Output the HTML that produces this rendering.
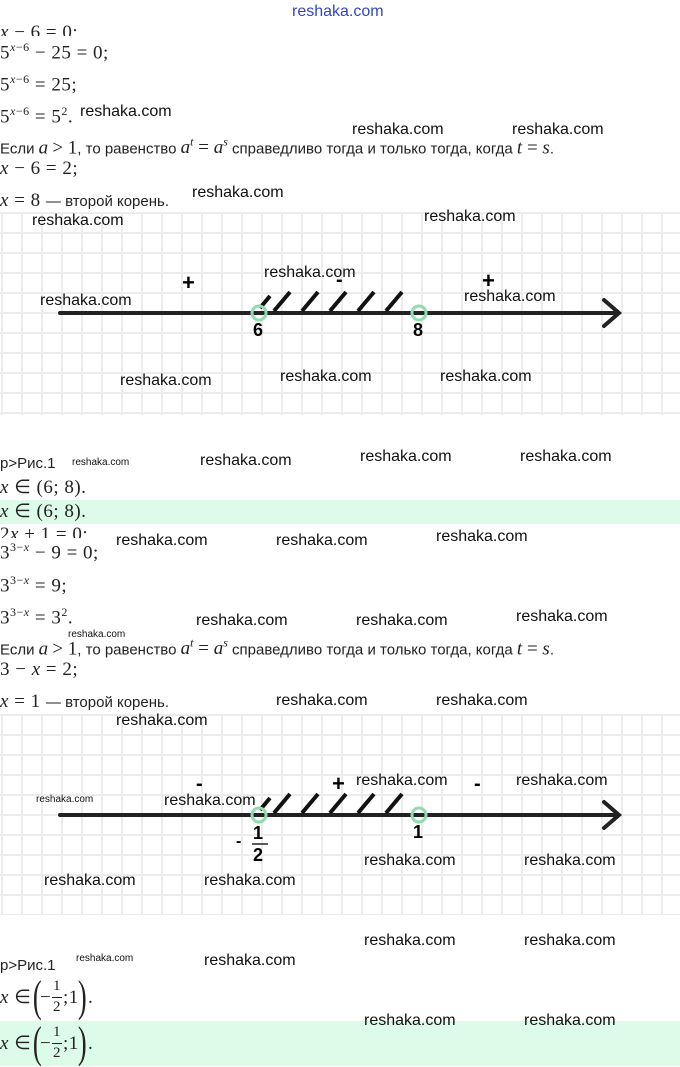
<!DOCTYPE html>
<html><head><meta charset="utf-8"><style>
body{margin:0;width:680px;height:1066px;position:relative;background:#fff;overflow:hidden;font-family:"Liberation Sans",sans-serif;}
.a{position:absolute;white-space:nowrap;line-height:1.2;}
.w{position:absolute;font-size:16px;color:#111;white-space:nowrap;line-height:1.2;}
.ws{position:absolute;font-size:10px;color:#111;line-height:1.2;}
.m{position:absolute;font-family:"Liberation Serif",serif;font-size:19px;letter-spacing:0.5px;color:#222;white-space:nowrap;line-height:1.2;}
.m i{font-style:italic;}
.t{position:absolute;font-size:15px;color:#222;white-space:nowrap;line-height:1.2;}
.grid{position:absolute;left:0;width:680px;background-image:linear-gradient(#ececec 2px,transparent 2px),linear-gradient(90deg,#ececec 2px,transparent 2px);background-size:20px 20px;background-position:1px 0px;}
.band{position:absolute;left:0;width:680px;background:#dcfbe8;}
sup{font-size:12px;}
.p{position:absolute;font-family:"Liberation Serif",serif;font-size:44px;font-weight:normal;color:#222;line-height:1;transform:scaleX(0.6);}
</style></head><body>
<div class="a" style="left:292px;top:2px;font-size:16px;color:#3344cc;">reshaka.com</div>
<div class="m" style="left:0;top:22px;height:14px;overflow:hidden;"><i>x</i> − 6 = 0;</div>
<div class="m" style="left:0;top:40px;">5<sup><i>x</i>−6</sup> − 25 = 0;</div>
<div class="m" style="left:0;top:72px;">5<sup><i>x</i>−6</sup> = 25;</div>
<div class="m" style="left:0;top:104px;">5<sup><i>x</i>−6</sup> = 5<sup>2</sup>.</div>
<div class="w" style="left:80px;top:102px;">reshaka.com</div>
<div class="w" style="left:352px;top:120px;">reshaka.com</div>
<div class="w" style="left:512px;top:120px;">reshaka.com</div>
<div class="t" style="left:0;top:135px;">Если <span style="font-family:'Liberation Serif';font-style:italic;font-size:19px">a</span> <span style="font-family:'Liberation Serif';font-size:19px">&gt; 1</span>, то равенство <span style="font-family:'Liberation Serif';font-style:italic;font-size:19px">a<sup>t</sup> <span style="font-style:normal">=</span> a<sup>s</sup></span> справедливо тогда и только тогда, когда <span style="font-family:'Liberation Serif';font-style:italic;font-size:19px">t <span style="font-style:normal">=</span> s</span>.</div>
<div class="m" style="left:0;top:158px;"><i>x</i> − 6 = 2;</div>
<div class="m" style="left:0;top:190px;"><i>x</i> = 8 <span style="font-family:'Liberation Sans';font-size:15px;letter-spacing:0">— второй корень.</span></div>
<div class="w" style="left:192px;top:183px;">reshaka.com</div>

<div class="grid" style="top:212px;height:203px;"></div>
<svg class="a" style="left:0;top:212px" width="680" height="203">
<g stroke="#222" stroke-width="4" fill="none" stroke-linecap="round">
<line x1="60" y1="101" x2="618" y2="101"/><polyline points="604,88 619,101 604,114"/>
</g>
<g stroke="#111" stroke-width="4"><line x1="260" y1="96" x2="270" y2="84"/><line x1="274" y1="99" x2="290" y2="80"/><line x1="302" y1="99" x2="318" y2="80"/><line x1="330" y1="99" x2="346" y2="80"/><line x1="358" y1="99" x2="374" y2="80"/><line x1="386" y1="99" x2="402" y2="80"/></g>
<circle cx="259" cy="101" r="7" fill="none" stroke="#8fdcaf" stroke-width="3"/>
<circle cx="419" cy="101" r="7" fill="none" stroke="#8fdcaf" stroke-width="3"/>
</svg>
<div class="w" style="left:32px;top:211px;">reshaka.com</div>
<div class="w" style="left:424px;top:207px;">reshaka.com</div>
<div class="a" style="left:182px;top:270px;font-size:22px;font-weight:bold;">+</div>
<div class="a" style="left:482px;top:268px;font-size:22px;font-weight:bold;">+</div>
<div class="a" style="left:336px;top:268px;font-size:20px;font-weight:bold;">-</div>
<div class="w" style="left:264px;top:263px;">reshaka.com</div>
<div class="w" style="left:40px;top:291px;">reshaka.com</div>
<div class="w" style="left:464px;top:287px;">reshaka.com</div>
<div class="a" style="left:253px;top:320px;font-size:18px;font-weight:bold;">6</div>
<div class="a" style="left:413px;top:320px;font-size:18px;font-weight:bold;">8</div>
<div class="w" style="left:120px;top:371px;">reshaka.com</div>
<div class="w" style="left:280px;top:367px;">reshaka.com</div>
<div class="w" style="left:440px;top:367px;">reshaka.com</div>

<div class="t" style="left:0;top:455px;">p&gt;Рис.1</div>
<div class="ws" style="left:72px;top:457px;">reshaka.com</div>
<div class="w" style="left:200px;top:451px;">reshaka.com</div>
<div class="w" style="left:360px;top:447px;">reshaka.com</div>
<div class="w" style="left:520px;top:447px;">reshaka.com</div>
<div class="m" style="left:0;top:477px;"><i>x</i> ∈ (6; 8).</div>
<div class="band" style="top:500px;height:24px;"></div>
<div class="m" style="left:0;top:501px;"><i>x</i> ∈ (6; 8).</div>
<div class="m" style="left:0;top:524px;height:14px;overflow:hidden;">2<i>x</i> + 1 = 0;</div>
<div class="m" style="left:0;top:540px;">3<sup>3−<i>x</i></sup> − 9 = 0;</div>
<div class="w" style="left:116px;top:531px;">reshaka.com</div>
<div class="w" style="left:276px;top:531px;">reshaka.com</div>
<div class="w" style="left:436px;top:527px;">reshaka.com</div>
<div class="m" style="left:0;top:573px;">3<sup>3−<i>x</i></sup> = 9;</div>
<div class="m" style="left:0;top:605px;">3<sup>3−<i>x</i></sup> = 3<sup>2</sup>.</div>
<div class="w" style="left:196px;top:611px;">reshaka.com</div>
<div class="w" style="left:356px;top:611px;">reshaka.com</div>
<div class="w" style="left:516px;top:607px;">reshaka.com</div>
<div class="ws" style="left:68px;top:629px;">reshaka.com</div>
<div class="t" style="left:0;top:636px;">Если <span style="font-family:'Liberation Serif';font-style:italic;font-size:19px">a</span> <span style="font-family:'Liberation Serif';font-size:19px">&gt; 1</span>, то равенство <span style="font-family:'Liberation Serif';font-style:italic;font-size:19px">a<sup>t</sup> <span style="font-style:normal">=</span> a<sup>s</sup></span> справедливо тогда и только тогда, когда <span style="font-family:'Liberation Serif';font-style:italic;font-size:19px">t <span style="font-style:normal">=</span> s</span>.</div>
<div class="m" style="left:0;top:659px;">3 − <i>x</i> = 2;</div>
<div class="m" style="left:0;top:691px;"><i>x</i> = 1 <span style="font-family:'Liberation Sans';font-size:15px;letter-spacing:0">— второй корень.</span></div>
<div class="w" style="left:276px;top:691px;">reshaka.com</div>
<div class="w" style="left:436px;top:691px;">reshaka.com</div>

<div class="grid" style="top:714px;height:201px;"></div>
<div class="w" style="left:116px;top:711px;">reshaka.com</div>
<svg class="a" style="left:0;top:714px" width="680" height="201">
<g stroke="#222" stroke-width="4" fill="none" stroke-linecap="round">
<line x1="60" y1="101" x2="618" y2="101"/><polyline points="604,88 619,101 604,114"/>
</g>
<g stroke="#111" stroke-width="4"><line x1="260" y1="96" x2="270" y2="84"/><line x1="274" y1="99" x2="290" y2="80"/><line x1="302" y1="99" x2="318" y2="80"/><line x1="330" y1="99" x2="346" y2="80"/><line x1="358" y1="99" x2="374" y2="80"/><line x1="386" y1="99" x2="402" y2="80"/></g>
<circle cx="259" cy="101" r="7" fill="none" stroke="#8fdcaf" stroke-width="3"/>
<circle cx="419" cy="101" r="7" fill="none" stroke="#8fdcaf" stroke-width="3"/>
<line x1="252" y1="130" x2="268" y2="130" stroke="#222" stroke-width="1.5"/>
</svg>
<div class="a" style="left:196px;top:772px;font-size:20px;font-weight:bold;">-</div>
<div class="a" style="left:474px;top:772px;font-size:20px;font-weight:bold;">-</div>
<div class="a" style="left:332px;top:771px;font-size:22px;font-weight:bold;">+</div>
<div class="w" style="left:356px;top:771px;">reshaka.com</div>
<div class="w" style="left:516px;top:771px;">reshaka.com</div>
<div class="ws" style="left:36px;top:794px;">reshaka.com</div>
<div class="w" style="left:164px;top:791px;">reshaka.com</div>
<div class="a" style="left:253px;top:823px;font-size:18px;font-weight:bold;">1</div>
<div class="a" style="left:253px;top:845px;font-size:18px;font-weight:bold;">2</div>
<div class="a" style="left:236px;top:832px;font-size:16px;font-weight:bold;">-</div>
<div class="a" style="left:413px;top:822px;font-size:18px;font-weight:bold;">1</div>
<div class="w" style="left:364px;top:851px;">reshaka.com</div>
<div class="w" style="left:524px;top:851px;">reshaka.com</div>
<div class="w" style="left:44px;top:871px;">reshaka.com</div>
<div class="w" style="left:204px;top:871px;">reshaka.com</div>

<div class="w" style="left:364px;top:931px;">reshaka.com</div>
<div class="w" style="left:524px;top:931px;">reshaka.com</div>
<div class="t" style="left:0;top:957px;">p&gt;Рис.1</div>
<div class="ws" style="left:76px;top:953px;">reshaka.com</div>
<div class="w" style="left:204px;top:951px;">reshaka.com</div>
<div class="band" style="top:1021px;height:45px;"></div>
<div class="w" style="left:364px;top:1011px;">reshaka.com</div>
<div class="w" style="left:524px;top:1011px;">reshaka.com</div>

<div class="m" style="left:0;top:987px;"><i>x</i> ∈</div>
<div class="p" style="left:30px;top:975px;">(</div>
<div class="m" style="left:40px;top:987px;">−</div>
<div class="m" style="left:53px;top:977px;font-size:15px;">1</div>
<div style="position:absolute;left:52px;top:997px;width:10px;height:1px;background:#222"></div>
<div class="m" style="left:53px;top:998px;font-size:15px;">2</div>
<div class="m" style="left:63px;top:987px;">;1</div>
<div class="p" style="left:75px;top:975px;">)</div>
<div class="m" style="left:88px;top:987px;">.</div>

<div class="m" style="left:0;top:1033px;"><i>x</i> ∈</div>
<div class="p" style="left:30px;top:1021px;">(</div>
<div class="m" style="left:40px;top:1033px;">−</div>
<div class="m" style="left:53px;top:1023px;font-size:15px;">1</div>
<div style="position:absolute;left:52px;top:1043px;width:10px;height:1px;background:#222"></div>
<div class="m" style="left:53px;top:1044px;font-size:15px;">2</div>
<div class="m" style="left:63px;top:1033px;">;1</div>
<div class="p" style="left:75px;top:1021px;">)</div>
<div class="m" style="left:88px;top:1033px;">.</div>
</body></html>
